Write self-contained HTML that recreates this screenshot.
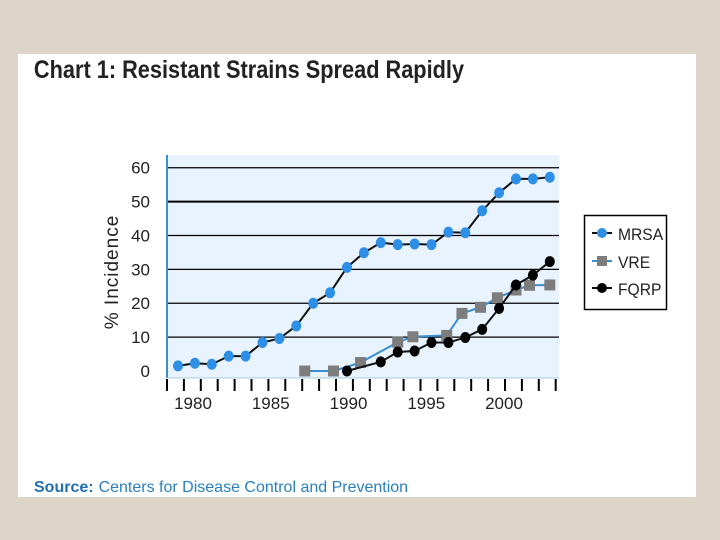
<!DOCTYPE html>
<html><head><meta charset="utf-8"><style>
body{margin:0;width:720px;height:540px;background:#ddd6c8;overflow:hidden;font-family:"Liberation Sans",sans-serif}
#panel{position:absolute;left:18px;top:54px;width:678px;height:443px;background:#fff}
svg{position:absolute;left:0;top:0}
</style></head><body>
<div id="panel"></div>
<svg id="chart" width="720" height="540"></svg>
<script>
const mrsaYears=[1979,1980,1981,1982,1983,1984,1985,1986,1987,1988,1989,1990,1991,1992,1993,1994,1995,1996,1997,1998,1999,2000,2001];
const mrsaValues=[1.5,2.3,2,4.4,4.4,8.4,9.6,13.3,20,23.1,30.6,34.9,37.9,37.3,37.5,37.3,41,40.8,47.3,52.6,56.7,56.7,57.2];
const vreYears=[1986.5,1988.2,1989.8,1992,1992.9,1994.9,1995.8,1996.9,1997.9,1999,1999.8,2001];
const vreValues=[0,0,2.5,8.5,10.1,10.5,17,18.8,21.6,23.9,25.3,25.4];
const fqrpYears=[1989,1991,1992,1993,1994,1995,1996,1997,1998,1999,2000,2001];
const fqrpValues=[0,2.7,5.6,5.9,8.4,8.4,9.9,12.3,18.5,25.4,28.3,32.3];
const yTicks=[0,10,20,30,40,50,60];
const xLabels=[1980,1985,1990,1995,2000];
const tickCount=24;

const NS="http://www.w3.org/2000/svg";
const svg=document.getElementById('chart');
function x(yr){return 178+(yr-1979)*16.9;}
function y(v){return 371-v*3.388;}
function lx(yr){return 193+(yr-1980)*15.55;}
function el(tag,attrs,parent){const e=document.createElementNS(NS,tag);for(const k in attrs)e.setAttribute(k,attrs[k]);(parent||svg).appendChild(e);return e;}

let t=el('text',{x:39,y:78,'font-size':25,'font-weight':'bold',fill:'#222',transform:'scale(0.87,1)'});

t.textContent='Chart 1: Resistant Strains Spread Rapidly';

let bg=el('rect',{x:167,y:155,width:392,height:223,fill:'#e8f3fd'});


yTicks.forEach(v=>{
  if(v>0){let g=el('line',{x1:167,x2:559,y1:y(v),y2:y(v),stroke:'#000','stroke-width':v===50?2:1.2});
  }
  let l=el('text',{x:150,y:y(v)+6,'font-size':17,'text-anchor':'end',fill:'#222'});
  
  l.textContent=v;
});
let ya=el('line',{x1:167,x2:167,y1:155,y2:378,stroke:'#3a8fc8','stroke-width':2});

let xa=el('line',{x1:167,x2:559,y1:378,y2:378,stroke:'#a8cbe6','stroke-width':1});

for(let i=0;i<tickCount;i++){
  let tk=el('line',{x1:167+i*16.9,x2:167+i*16.9,y1:379,y2:391,stroke:'#000','stroke-width':2});
  
}
xLabels.forEach(yr=>{
  let l=el('text',{x:lx(yr),y:409,'font-size':17,'text-anchor':'middle',fill:'#222'});
  
  l.textContent=yr;
});
let yt=el('text',{x:0,y:0,'font-size':19,'text-anchor':'middle',fill:'#222','letter-spacing':'1',transform:'translate(118,272) rotate(-90)'});

yt.textContent='% Incidence';

function series(xs,vs,lineColor,mark,markColor,name){
  let pts=xs.map((a,i)=>x(a)+','+y(vs[i])).join(' ');
  let pl=el('polyline',{points:pts,fill:'none',stroke:lineColor,'stroke-width':2});
  
  xs.forEach((a,i)=>{
    let m;
    if(mark==='sq'){m=el('rect',{x:x(a)-5.5,y:y(vs[i])-5.5,width:11,height:11,fill:markColor});}
    else{m=el('ellipse',{cx:x(a),cy:y(vs[i]),rx:5,ry:5.5,fill:markColor});}
    
  });
}
series(mrsaYears,mrsaValues,'#111','c','#2e8fe6','mrsa');
series(vreYears,vreValues,'#3a8fd0','sq','#7d7d7d','vre');
series(fqrpYears,fqrpValues,'#111','c','#000','fqrp');

let lg=el('g',{});
el('rect',{x:584.5,y:215.5,width:82,height:94,fill:'#fff',stroke:'#000','stroke-width':1.5},lg);
[['MRSA','#111','#2e8fe6','c',233],['VRE','#3a8fd0','#7d7d7d','sq',261],['FQRP','#111','#000','c',288]].forEach(e=>{
  let g=el('g',{},lg);
  el('line',{x1:592,x2:612,y1:e[4],y2:e[4],stroke:e[1],'stroke-width':2},g);
  if(e[3]==='sq')el('rect',{x:597,y:e[4]-5,width:10,height:10,fill:e[2]},g);
  else el('circle',{cx:602,cy:e[4],r:5,fill:e[2]},g);
  let tx=el('text',{x:618,y:e[4]+7,'font-size':17,fill:'#222',transform:'translate('+(618*0.08)+',0) scale(0.92,1)'},g);tx.textContent=e[0];
});

let src=el('text',{x:34,y:492,'font-size':16,fill:'#2a7fc0'});

let b=el('tspan',{'font-weight':'bold',fill:'#1f6fb5'},src);b.textContent='Source:';
let r=el('tspan',{dx:5},src);r.textContent='Centers for Disease Control and Prevention';
</script>
</body></html>
